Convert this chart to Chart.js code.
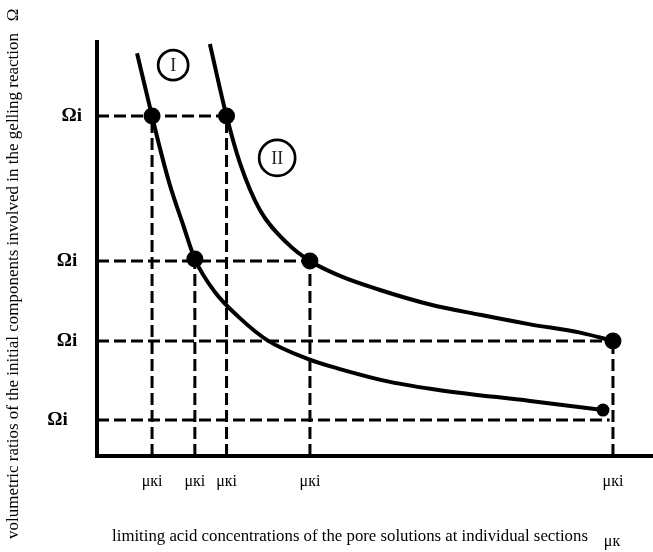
<!DOCTYPE html>
<html><head><meta charset="utf-8">
<script src="https://cdn.jsdelivr.net/npm/chart.js@4/dist/chart.umd.min.js"></script>
<style>html,body{margin:0;padding:0;background:#fff;} canvas{display:block;}</style>
</head><body>
<canvas id="c" width="653" height="552"></canvas>
<script>
// ---- data ----
const muTicks = [9.9, 17.6, 23.3, 38.3, 92.8];
const muTickLabels = ["μкi", "μкi", "μкi", "μкi", "μкi"];
const omegaTicks = [8.7, 27.8, 47.1, 82.1];
const omegaTickLabels = ["Ωi   ", "Ωi ", "Ωi ", "Ωi"];

const curveI_x = [7.2, 9.9, 11.5, 13.1, 15.5, 17.6, 21.2, 25.7, 30.6, 38.0, 43.7, 52.7, 61.7, 77.9, 91.0];
const curveI_y = [97.3, 82.1, 73.4, 65.5, 55.8, 47.6, 39.6, 33.3, 28.0, 23.4, 21.0, 17.9, 15.9, 13.3, 11.1];
const curveII_x = [20.3, 23.3, 25.7, 29.3, 34.2, 38.3, 43.7, 50.9, 59.9, 68.9, 77.9, 86.9, 92.8];
const curveII_y = [99.5, 82.1, 70.8, 59.4, 51.4, 47.1, 43.5, 40.1, 36.6, 34.1, 31.8, 29.8, 27.8];

const markersI_x = [9.9, 17.6, 91.0];
const markersI_y = [82.1, 47.6, 11.1];
const markersII_x = [23.3, 38.3, 92.8];
const markersII_y = [82.1, 47.1, 27.8];

const hGuideLevels = [82.1, 47.1, 27.8, 8.7];
const hGuideEnds = [23.3, 38.3, 92.8, 92.2];
const vGuideMu = [9.9, 17.6, 23.3, 38.3, 92.8];
const vGuideTops = [82.1, 47.1, 82.1, 47.1, 27.8];

const curveNames = ["I", "II"];
const curveNameAnchors = [[13.7, 94.4], [32.4, 72.0]];
const xTitle = "limiting acid concentrations of the pore solutions at individual sections";
const xUnit = "μк";
const yTitle = "volumetric ratios of the initial components involved in the gelling reaction";
const yUnit = "Ω";

// ---- build ----
const zip = (xs, ys) => xs.map((x, i) => ({x: x, y: ys[i]}));
const guideStyle = {borderColor: '#000', borderWidth: 3, borderDash: [12, 5], pointRadius: 0, fill: false, order: 3, showLine: true};
const datasets = [];
hGuideLevels.forEach((lv, i) => datasets.push(Object.assign({data: [{x: 0, y: lv}, {x: hGuideEnds[i], y: lv}]}, guideStyle)));
vGuideMu.forEach((m, i) => datasets.push(Object.assign({data: [{x: m, y: 0}, {x: m, y: vGuideTops[i]}]}, guideStyle)));
[[curveI_x, curveI_y], [curveII_x, curveII_y]].forEach(c => datasets.push({
  data: zip(c[0], c[1]), borderColor: '#000', borderWidth: 4, pointRadius: 0,
  cubicInterpolationMode: 'monotone', showLine: true, fill: false, order: 2
}));
datasets.push({data: zip(markersI_x, markersI_y), showLine: false, pointRadius: [8.5, 8.5, 6.5], pointBackgroundColor: '#000', pointBorderWidth: 0, order: 1});
datasets.push({data: zip(markersII_x, markersII_y), showLine: false, pointRadius: 8.5, pointBackgroundColor: '#000', pointBorderWidth: 0, order: 1});

const textPlugin = {
  id: 'texts',
  afterDraw(chart) {
    const ctx = chart.ctx, xs = chart.scales.x, ys = chart.scales.y;
    ctx.save();
    curveNames.forEach((n, i) => {
      const px = xs.getPixelForValue(curveNameAnchors[i][0]);
      const py = ys.getPixelForValue(curveNameAnchors[i][1]);
      const r = i === 0 ? 15 : 18;
      ctx.beginPath(); ctx.arc(px, py, r, 0, Math.PI * 2);
      ctx.fillStyle = '#fff'; ctx.fill();
      ctx.lineWidth = 2.7; ctx.strokeStyle = '#000'; ctx.stroke();
      ctx.fillStyle = '#222'; ctx.font = '18px "Liberation Serif"';
      ctx.textAlign = 'center'; ctx.textBaseline = 'middle';
      ctx.fillText(n, px, py + 1);
    });
    ctx.fillStyle = '#000';
    ctx.font = '16.8px "Liberation Serif"'; ctx.textAlign = 'center'; ctx.textBaseline = 'middle';
    ctx.fillText(xTitle, 350, 537);
    ctx.font = '16px "Liberation Serif"';
    ctx.fillText(xUnit, 612, 542);
    ctx.save();
    ctx.translate(14, 286); ctx.rotate(-Math.PI / 2);
    ctx.font = '17px "Liberation Serif"';
    ctx.fillText(yTitle, 0, 0);
    ctx.restore();
    ctx.save();
    ctx.translate(14, 15); ctx.rotate(-Math.PI / 2);
    ctx.font = '17px "Liberation Serif"';
    ctx.fillText(yUnit, 0, 0);
    ctx.restore();
    ctx.restore();
  }
};

new Chart(document.getElementById('c'), {
  type: 'scatter',
  data: {datasets: datasets},
  options: {
    responsive: false, animation: false, devicePixelRatio: 1,
    layout: {autoPadding: false, padding: {top: 42, right: 0, left: 0, bottom: 0}},
    plugins: {legend: {display: false}, tooltip: {enabled: false}},
    scales: {
      x: {
        type: 'linear', min: 0, max: 100,
        grid: {display: false, drawTicks: false},
        border: {display: true, color: '#000', width: 4},
        afterBuildTicks: s => { s.ticks = muTicks.map(v => ({value: v})); },
        afterFit: s => { s.height = 96; s.paddingLeft = 0; s.paddingRight = 0; },
        ticks: {
          autoSkip: false, maxRotation: 0, padding: 16, color: '#000',
          font: {family: 'Liberation Serif', size: 16},
          callback: (v, i) => muTickLabels[i]
        }
      },
      y: {
        type: 'linear', min: 0, max: 100,
        grid: {display: false, drawTicks: false},
        border: {display: true, color: '#000', width: 4},
        afterBuildTicks: s => { s.ticks = omegaTicks.map(v => ({value: v})); },
        afterFit: s => { s.width = 97; s.paddingTop = 0; s.paddingBottom = 0; },
        ticks: {
          autoSkip: false, padding: 15, color: '#000',
          font: {family: 'Liberation Serif', size: 19, weight: 'bold'},
          callback: (v, i) => omegaTickLabels[i]
        }
      }
    }
  },
  plugins: [textPlugin]
});
</script>
</body></html>
